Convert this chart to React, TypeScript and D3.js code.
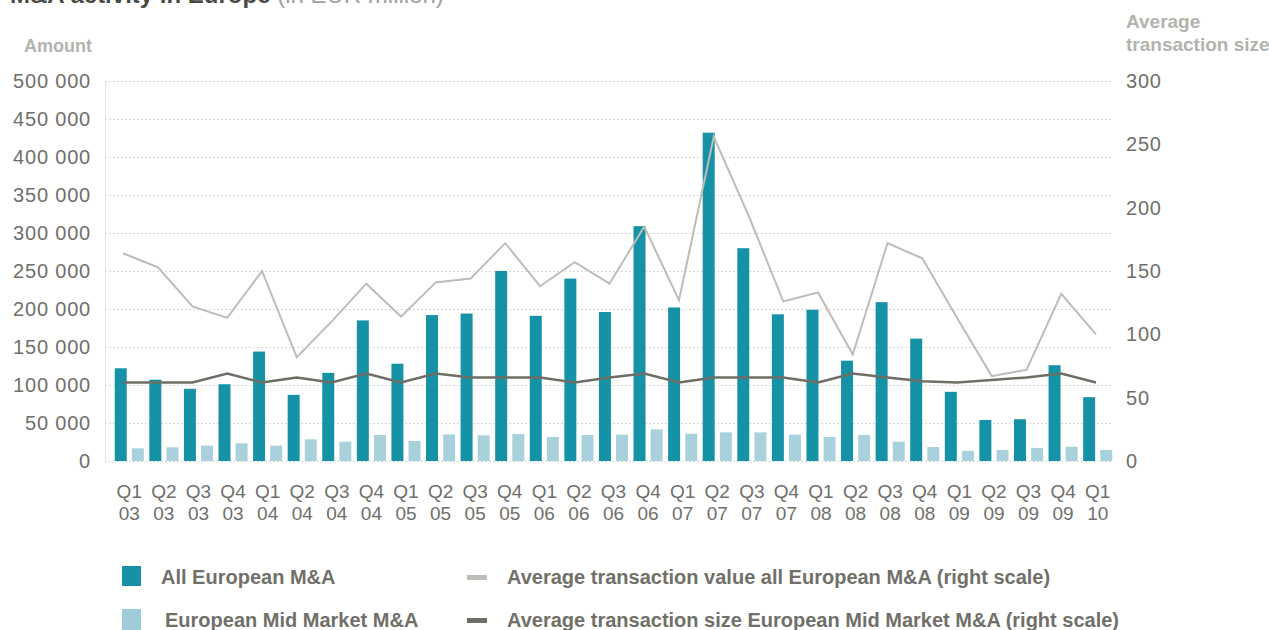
import React, { useRef, useEffect } from 'react';
import * as d3 from 'd3';

// quarter labels (two lines each: quarter / year)
const quarters = [
  'Q1 03', 'Q2 03', 'Q3 03', 'Q4 03',
  'Q1 04', 'Q2 04', 'Q3 04', 'Q4 04',
  'Q1 05', 'Q2 05', 'Q3 05', 'Q4 05',
  'Q1 06', 'Q2 06', 'Q3 06', 'Q4 06',
  'Q1 07', 'Q2 07', 'Q3 07', 'Q4 07',
  'Q1 08', 'Q2 08', 'Q3 08', 'Q4 08',
  'Q1 09', 'Q2 09', 'Q3 09', 'Q4 09',
  'Q1 10',
];

// amounts, EUR million (left scale)
const allMA = [
  122000, 107000, 95000, 101000, 144000, 87000, 116000, 185000,
  128000, 192000, 194000, 250000, 191000, 240000, 196000, 309000,
  202000, 432000, 280000, 193000, 199000, 132000, 209000, 161000,
  91000, 54000, 55000, 126000, 84000,
];
const midMA = [
  16700, 18000, 20200, 23300, 20200, 28500, 25400, 34200,
  26300, 35000, 33800, 35500, 31600, 34200, 34600, 41700,
  35900, 37700, 37700, 34600, 31600, 34200, 25400, 18400,
  13200, 14500, 17100, 18800, 14500,
];

// average transaction size, EUR million (right scale)
const avgAll = [
  164, 153, 122, 113, 150, 82, 110, 140, 114, 141, 144, 172, 138, 157, 140,
  185, 127, 256, 194, 126, 133, 84, 172, 160, 113, 67, 72, 132, 100,
];
const avgMid = [
  62, 62, 62, 69, 62, 66, 62, 69, 62, 69, 66, 66, 66, 62, 66,
  69, 62, 66, 66, 66, 62, 69, 66, 63, 62, 64, 66, 69, 62,
];

const leftTicks = [0, 50000, 100000, 150000, 200000, 250000, 300000, 350000, 400000, 450000, 500000];
const rightTicks = [0, 50, 100, 150, 200, 250, 300];

const DARK = '#1592a5';
const LIGHT = '#a9d1dc';
const GREY_LINE = '#bdbdb8';
const DARK_LINE = '#6e6e67';
const TICK = '#6f6f6a';
const FAINT = '#b3b3ad';
const FONT = "'Liberation Sans', Arial, sans-serif";

const App = () => {
  const ref = useRef(null);

  useEffect(() => {
    document.body.style.margin = '0';
    const svg = d3.select(ref.current);
    svg.selectAll('*').remove();

    const x = d3.scaleBand().domain(quarters).range([112, 1115]);
    const xSub = d3.scaleBand()
      .domain(['all', 'mid'])
      .range([0, x.bandwidth()])
      .paddingInner(0.3)
      .paddingOuter(0.16);
    const xLine = d3.scalePoint().domain(quarters).range([123, 1096]);
    const yL = d3.scaleLinear().domain([0, 500000]).range([461, 81]);
    const yR = d3.scaleLinear().domain([0, 300]).range([461, 81]);

    // title (cut off at the top in the original)
    const title = svg.append('text')
      .attr('x', 10).attr('y', 3)
      .attr('font-family', FONT)
      .attr('font-size', 24);
    title.append('tspan').attr('font-weight', 'bold').attr('fill', '#4a4a45').text('M&A activity in Europe');
    title.append('tspan').attr('fill', '#a0a09b').text(' (in EUR million)');

    // gridlines
    svg.append('g').selectAll('line')
      .data(leftTicks)
      .enter().append('line')
      .attr('x1', 105).attr('x2', 1113)
      .attr('y1', d => yL(d) + 0.5).attr('y2', d => yL(d) + 0.5)
      .attr('stroke', '#d9d9d9')
      .attr('stroke-dasharray', '2,2');

    svg.append('line')
      .attr('x1', 105.5).attr('x2', 105.5)
      .attr('y1', yL(500000)).attr('y2', yL(0))
      .attr('stroke', '#e6e6e6');

    // left axis labels
    const fmt = v => d3.format(',')(v).replace(/,/g, ' ');
    svg.append('g').selectAll('text')
      .data(leftTicks)
      .enter().append('text')
      .attr('x', 91).attr('y', d => yL(d))
      .attr('dy', '0.35em')
      .attr('text-anchor', 'end')
      .attr('font-family', FONT).attr('font-size', 20)
      .attr('letter-spacing', 0.8)
      .attr('fill', TICK)
      .text(fmt);

    // right axis labels
    svg.append('g').selectAll('text')
      .data(rightTicks)
      .enter().append('text')
      .attr('x', 1126).attr('y', d => yR(d))
      .attr('dy', '0.35em')
      .attr('font-family', FONT).attr('font-size', 20)
      .attr('letter-spacing', 0.8)
      .attr('fill', TICK)
      .text(d => d);

    // axis titles
    svg.append('text')
      .attr('x', 92).attr('y', 46).attr('dy', '0.35em')
      .attr('text-anchor', 'end')
      .attr('font-family', FONT).attr('font-size', 18).attr('font-weight', 'bold')
      .attr('fill', FAINT)
      .text('Amount');
    svg.append('text')
      .attr('x', 1126).attr('y', 21).attr('dy', '0.35em')
      .attr('font-family', FONT).attr('font-size', 19).attr('font-weight', 'bold')
      .attr('fill', FAINT)
      .text('Average');
    svg.append('text')
      .attr('x', 1126).attr('y', 44).attr('dy', '0.35em')
      .attr('font-family', FONT).attr('font-size', 19).attr('font-weight', 'bold')
      .attr('fill', FAINT)
      .text('transaction size');

    // bars
    const groups = svg.append('g').selectAll('g')
      .data(quarters)
      .enter().append('g')
      .attr('transform', d => `translate(${x(d)},0)`);

    groups.append('rect')
      .attr('x', xSub('all'))
      .attr('width', xSub.bandwidth())
      .attr('y', (d, i) => yL(allMA[i]))
      .attr('height', (d, i) => yL(0) - yL(allMA[i]))
      .attr('fill', DARK);

    groups.append('rect')
      .attr('x', xSub('mid'))
      .attr('width', xSub.bandwidth())
      .attr('y', (d, i) => yL(midMA[i]))
      .attr('height', (d, i) => yL(0) - yL(midMA[i]))
      .attr('fill', LIGHT);

    // lines
    const line = d3.line()
      .x((d, i) => xLine(quarters[i]))
      .y(d => yR(d));

    svg.append('path')
      .attr('d', line(avgAll))
      .attr('fill', 'none')
      .attr('stroke', GREY_LINE)
      .attr('stroke-width', 2);

    svg.append('path')
      .attr('d', line(avgMid))
      .attr('fill', 'none')
      .attr('stroke', DARK_LINE)
      .attr('stroke-width', 2.5);

    // x labels
    const xl = svg.append('g').selectAll('text')
      .data(quarters)
      .enter().append('text')
      .attr('x', d => x(d) + x.bandwidth() / 2)
      .attr('text-anchor', 'middle')
      .attr('font-family', FONT).attr('font-size', 19)
      .attr('fill', TICK);
    xl.append('tspan')
      .attr('x', d => x(d) + x.bandwidth() / 2)
      .attr('y', 491).attr('dy', '0.35em')
      .text(d => d.split(' ')[0]);
    xl.append('tspan')
      .attr('x', d => x(d) + x.bandwidth() / 2)
      .attr('y', 513).attr('dy', '0.35em')
      .text(d => d.split(' ')[1]);

    // legend
    const legend = svg.append('g')
      .attr('font-family', FONT).attr('font-size', 20).attr('font-weight', 'bold')
      .attr('fill', '#707069');

    legend.append('rect').attr('x', 122).attr('y', 566).attr('width', 19).attr('height', 20).attr('fill', DARK);
    legend.append('text').attr('x', 161).attr('y', 577).attr('dy', '0.35em').text('All European M&A');
    legend.append('rect').attr('x', 122).attr('y', 609).attr('width', 19).attr('height', 21).attr('fill', '#9fcbd8');
    legend.append('text').attr('x', 165).attr('y', 620).attr('dy', '0.35em').text('European Mid Market M&A');

    legend.append('rect').attr('x', 467).attr('y', 575).attr('width', 20).attr('height', 5).attr('fill', GREY_LINE);
    legend.append('text').attr('x', 507).attr('y', 577).attr('dy', '0.35em')
      .text('Average transaction value all European M&A (right scale)');
    legend.append('rect').attr('x', 467).attr('y', 618).attr('width', 20).attr('height', 5).attr('fill', DARK_LINE);
    legend.append('text').attr('x', 507).attr('y', 620).attr('dy', '0.35em')
      .text('Average transaction size European Mid Market M&A (right scale)');
  }, []);

  return <svg ref={ref} width={1269} height={630} style={{ display: 'block', background: '#fff' }} />;
};

export default App;
